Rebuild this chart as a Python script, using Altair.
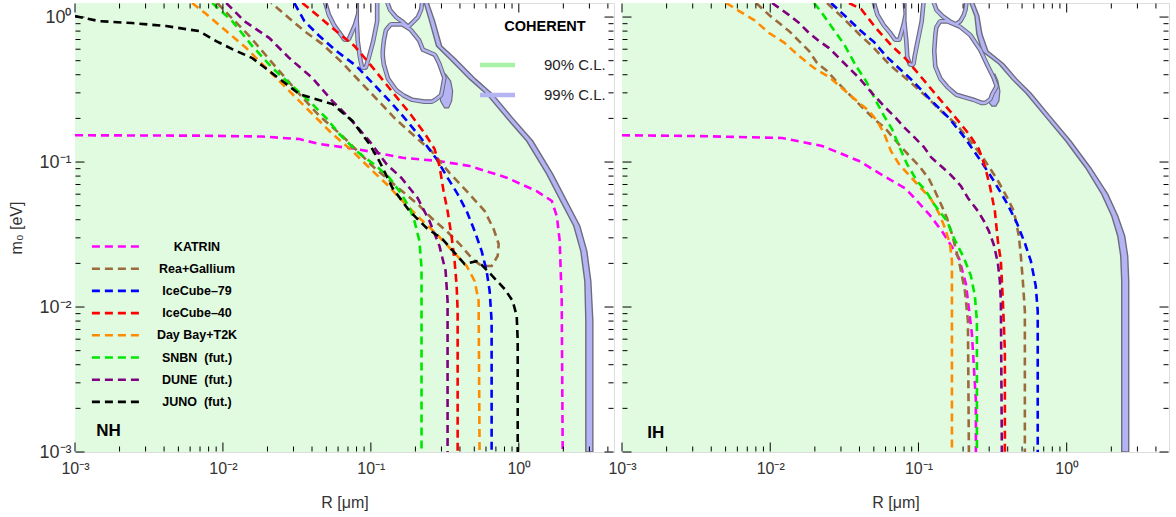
import altair as alt
import pandas as pd

# ---------------- NH panel data ----------------
katrin_nh_x = [0.001, 0.0069, 0.0185, 0.0329, 0.0449, 0.0799, 0.164, 0.278, 0.465, 0.828, 1.32, 1.67, 1.81, 1.89, 1.95, 1.98]
katrin_nh_y = [0.153, 0.152, 0.150, 0.144, 0.133, 0.123, 0.107, 0.102, 0.094, 0.078, 0.063, 0.054, 0.042, 0.0285, 0.011, 0.001]

rea_nh_x = [0.00915, 0.0151, 0.024, 0.0329, 0.0449, 0.0643, 0.1025, 0.156, 0.207, 0.257, 0.325, 0.398, 0.487, 0.561,
            0.655, 0.72, 0.731, 0.676, 0.588, 0.444, 0.341, 0.257, 0.197, 0.1445, 0.118, 0.0837, 0.0643, 0.047,
            0.0355, 0.026, 0.0212]
rea_nh_y = [1.25, 0.739, 0.425, 0.294, 0.208, 0.151, 0.0938, 0.0652, 0.0513, 0.0411, 0.0334, 0.0272, 0.0214, 0.0192,
            0.0192, 0.0225, 0.0272, 0.0345, 0.0459, 0.0631, 0.0839, 0.119, 0.151, 0.201, 0.251, 0.362, 0.482, 0.651,
            0.80, 1.049, 1.25]

ic79_nh_x = [0.0304, 0.0355, 0.0449, 0.0585, 0.0799, 0.1025, 0.134, 0.169, 0.213, 0.278, 0.325, 0.386, 0.444, 0.503,
             0.561, 0.606, 0.635, 0.655, 0.655]
ic79_nh_y = [1.25, 0.938, 0.739, 0.583, 0.459, 0.351, 0.263, 0.201, 0.151, 0.105, 0.080, 0.0601, 0.0459, 0.0334,
             0.0243, 0.0177, 0.0129, 0.0080, 0.001]

ic40_nh_x = [0.0344, 0.0402, 0.055, 0.0775, 0.101, 0.138, 0.1825, 0.2307, 0.2696, 0.291, 0.310, 0.330, 0.351, 0.368,
             0.380, 0.386, 0.386]
ic40_nh_y = [1.25, 1.10, 0.839, 0.631, 0.459, 0.309, 0.218, 0.158, 0.123, 0.0938, 0.0631, 0.0459, 0.0309, 0.0208,
             0.014, 0.00938, 0.001]

dbt_nh_x = [0.00619, 0.00771, 0.01053, 0.01438, 0.01845, 0.0252, 0.0329, 0.0449, 0.055, 0.0751, 0.0978, 0.1275, 0.164,
            0.213, 0.278, 0.357, 0.444, 0.503, 0.535, 0.543]
dbt_nh_y = [1.25, 1.049, 0.80, 0.611, 0.474, 0.345, 0.263, 0.192, 0.156, 0.119, 0.091, 0.0705, 0.0538, 0.0411, 0.0319,
            0.0243, 0.0192, 0.0151, 0.011, 0.001]

snbn_nh_x = [0.00847, 0.01156, 0.0158, 0.0216, 0.0294, 0.0384, 0.050, 0.0613, 0.0799, 0.109, 0.134, 0.161, 0.1825,
             0.197, 0.213, 0.220, 0.220]
snbn_nh_y = [1.25, 0.938, 0.631, 0.445, 0.334, 0.263, 0.201, 0.156, 0.119, 0.0938, 0.0776, 0.0601, 0.0482, 0.0392,
             0.0285, 0.0186, 0.001]

dune_nh_x = [0.01053, 0.01394, 0.0206, 0.0281, 0.0402, 0.055, 0.0717, 0.0978, 0.1275, 0.161, 0.207, 0.249, 0.291,
             0.320, 0.330, 0.330]
dune_nh_y = [1.25, 0.938, 0.716, 0.521, 0.380, 0.263, 0.201, 0.1396, 0.0969, 0.0776, 0.0565, 0.0392, 0.0263, 0.0177,
             0.011, 0.001]

juno_nh_x = [0.001, 0.00145, 0.00243, 0.00413, 0.0069, 0.009, 0.01156, 0.0158, 0.0252, 0.0329, 0.055, 0.0751, 0.0978,
             0.114, 0.140, 0.1825, 0.238, 0.305, 0.430, 0.527, 0.635, 0.8025, 0.909, 0.968, 0.983, 0.983]
juno_nh_y = [1.016, 0.938, 0.909, 0.867, 0.80, 0.683, 0.601, 0.521, 0.362, 0.294, 0.251, 0.192, 0.133, 0.1016, 0.0662,
             0.0459, 0.0351, 0.0294, 0.0198, 0.0208, 0.01715, 0.0133, 0.011, 0.00867, 0.00583, 0.001]

# COHERENT allowed region (90% edge and 99% edge), NH
coh_nh_y = [1.30, 0.938, 0.631, 0.513, 0.373, 0.294, 0.201, 0.1396, 0.0826, 0.0538, 0.0362, 0.0243, 0.0151, 0.008, 0.001]
coh_nh_in = [0.2270, 0.2494, 0.278, 0.341, 0.465, 0.606, 0.828, 1.131, 1.545, 1.921, 2.353, 2.625, 2.794, 2.838, 2.838]
coh_nh_out = [0.2416, 0.2696, 0.3007, 0.374, 0.5107, 0.6658, 0.9094, 1.242, 1.696, 2.11, 2.584, 2.883, 3.068, 3.166, 3.166]

# excluded islands inside the COHERENT region, NH
isl_nh = {
    "A": ([1.3, 1.049, 0.895, 0.80, 0.716], [0.05005, 0.05327, 0.05759, 0.06226, 0.0673],
          [0.0811, 0.0799, 0.07624, 0.07278, 0.06945]),
    "B": ([1.3, 0.938, 0.683, 0.538, 0.459], [0.08242, 0.08242, 0.08372, 0.08638, 0.08913],
          [0.1074, 0.1074, 0.1009, 0.09484, 0.09052]),
    "C": ([0.867, 0.80, 0.683, 0.583, 0.538, 0.474, 0.380, 0.319, 0.294, 0.276, 0.268],
          [0.1379, 0.1295, 0.1256, 0.1236, 0.1236, 0.1256, 0.1337, 0.1514, 0.1689, 0.1913, 0.2307],
          [0.1612, 0.1825, 0.2068, 0.2201, 0.2654, 0.2825, 0.3054, 0.296, 0.2914, 0.2696, 0.2573]),
    "D": ([1.3, 1.136, 1.016, 0.938, 0.895], [0.1316, 0.1379, 0.1514, 0.1689, 0.1769],
          [0.2167, 0.2133, 0.2036, 0.1883, 0.1797]),
}
blob_nh = {"E": ([0.4045, 0.362, 0.309, 0.263, 0.236], [0.296, 0.2914, 0.2914, 0.296, 0.315],
                 [0.320, 0.3459, 0.3569, 0.3514, 0.3353])}

# ---------------- IH panel data ----------------
katrin_ih_x = [0.001, 0.00332, 0.0120, 0.02237, 0.03052, 0.03974, 0.05419, 0.0824, 0.1177, 0.144, 0.1875, 0.209, 0.2294, 0.244, 0.244]
katrin_ih_y = [0.153, 0.151, 0.1465, 0.129, 0.1135, 0.1016, 0.0839, 0.0652, 0.0438, 0.0334, 0.0218, 0.0144, 0.00652, 0.00225, 0.001]

rea_ih1_x = [0.00804, 0.00983, 0.01148, 0.01341, 0.01566, 0.01829, 0.0207, 0.02418, 0.0278, 0.03402, 0.041, 0.05015,
             0.05947, 0.07745, 0.1024, 0.1177, 0.1292, 0.1418, 0.1556, 0.1682, 0.1875, 0.2058, 0.2156, 0.2189]
rea_ih1_y = [1.25, 1.032, 0.909, 0.80, 0.683, 0.583, 0.482, 0.425, 0.362, 0.294, 0.243, 0.198, 0.1716, 0.125, 0.0924,
             0.0764, 0.0631, 0.0513, 0.0411, 0.0319, 0.0208, 0.0129, 0.008, 0.001]
rea_ih2_x = [0.02418, 0.03148, 0.041, 0.04862, 0.06427, 0.0863, 0.1141, 0.1418, 0.179, 0.2294, 0.2763, 0.3381, 0.3949,
             0.4401, 0.4756, 0.4906, 0.5061, 0.5221, 0.5221]
rea_ih2_y = [1.25, 0.969, 0.739, 0.631, 0.466, 0.362, 0.2805, 0.225, 0.183, 0.135, 0.105, 0.0764, 0.0574, 0.0459,
             0.0309, 0.0225, 0.0151, 0.00938, 0.001]

ic79_ih_x = [0.02573, 0.03148, 0.041, 0.05015, 0.06135, 0.07745, 0.09183, 0.1177, 0.1606, 0.2058, 0.2637, 0.3227,
             0.3949, 0.4612, 0.5221, 0.5728, 0.6182, 0.6377, 0.6377]
ic79_ih_y = [1.25, 1.032, 0.80, 0.6725, 0.5296, 0.425, 0.362, 0.276, 0.201, 0.1465, 0.1016, 0.074, 0.0521, 0.038,
             0.0276, 0.0208, 0.014, 0.00938, 0.001]

ic40_ih_x = [0.03402, 0.041, 0.05171, 0.06629, 0.0824, 0.1056, 0.1374, 0.179, 0.2189, 0.2557, 0.2806, 0.3033, 0.3277,
             0.3433, 0.3597, 0.3711, 0.3828, 0.3828]
ic40_ih_y = [1.25, 1.136, 0.839, 0.631, 0.513, 0.380, 0.276, 0.201, 0.156, 0.123, 0.0938, 0.0683, 0.0459, 0.0285,
             0.0208, 0.011, 0.00497, 0.001]

dbt_ih_x = [0.00504, 0.00617, 0.00779, 0.00983, 0.01241, 0.01566, 0.01976, 0.02494, 0.03148, 0.03853, 0.04641, 0.05253,
            0.05855, 0.06527, 0.07391, 0.0863, 0.1039, 0.1215, 0.1374, 0.1509, 0.1631, 0.1682, 0.1682]
dbt_ih_y = [1.25, 1.10, 0.953, 0.776, 0.667, 0.538, 0.445, 0.386, 0.314, 0.263, 0.225, 0.192, 0.158, 0.119, 0.0969,
            0.0813, 0.0662, 0.0556, 0.0445, 0.0351, 0.0272, 0.0208, 0.001]

snbn_ih_x = [0.01976, 0.02237, 0.02573, 0.03148, 0.03793, 0.04431, 0.05171, 0.05855, 0.06629, 0.07391, 0.08368,
             0.09772, 0.1124, 0.1272, 0.1556, 0.1735, 0.2026, 0.2259, 0.2403, 0.2479, 0.2479]
snbn_ih_y = [1.25, 1.066, 0.867, 0.651, 0.459, 0.362, 0.263, 0.208, 0.169, 0.129, 0.0969, 0.074, 0.0631, 0.0513,
             0.0392, 0.0299, 0.0218, 0.0164, 0.0119, 0.008, 0.001]

dune_ih_x = [0.0103, 0.01341, 0.01566, 0.01829, 0.02136, 0.02494, 0.02913, 0.03402, 0.03974, 0.04862, 0.05947, 0.07054,
             0.07988, 0.09326, 0.1089, 0.1215, 0.1418, 0.1656, 0.1934, 0.2156, 0.2517, 0.2763, 0.2986, 0.3227, 0.3433,
             0.3542, 0.3597, 0.3654]
dune_ih_y = [1.25, 1.032, 0.909, 0.776, 0.683, 0.611, 0.521, 0.445, 0.380, 0.299, 0.239, 0.201, 0.174, 0.149, 0.127,
             0.108, 0.0938, 0.0813, 0.0683, 0.0565, 0.0459, 0.0392, 0.0334, 0.0268, 0.0201, 0.0151, 0.011, 0.001]

coh_ih_y = [1.30, 1.016, 0.764, 0.583, 0.474, 0.373, 0.299, 0.204, 0.1396, 0.091, 0.0601, 0.0424, 0.0309, 0.0225, 0.0151, 0.001]
coh_ih_in = [0.2189, 0.2403, 0.2479, 0.2679, 0.3487, 0.4267, 0.5302, 0.7231, 0.986, 1.345, 1.724, 2.013, 2.210, 2.315, 2.351, 2.351]
coh_ih_out = [0.2330, 0.2557, 0.2679, 0.2939, 0.3768, 0.4612, 0.5728, 0.7812, 1.0656, 1.453, 1.892, 2.210, 2.463, 2.580, 2.621, 2.621]

isl_ih = {
    "A": ([1.3, 1.049, 0.895, 0.80, 0.716], [0.05093, 0.05419, 0.05947, 0.06527, 0.07054],
          [0.07865, 0.07988, 0.07745, 0.07507, 0.07278]),
    "B": ([1.3, 0.938, 0.683, 0.538, 0.482], [0.0824, 0.0824, 0.08501, 0.0863, 0.08903],
          [0.1056, 0.1024, 0.09621, 0.09183, 0.09042]),
    "C": ([0.909, 0.839, 0.739, 0.583, 0.459, 0.380, 0.334, 0.299, 0.276, 0.263],
          [0.1418, 0.1353, 0.1333, 0.1312, 0.1333, 0.144, 0.1606, 0.1817, 0.2366, 0.2679],
          [0.1556, 0.1875, 0.2189, 0.2557, 0.2851, 0.3128, 0.3277, 0.3079, 0.2986, 0.2806]),
    "D": ([1.3, 1.136, 1.032, 0.953, 0.924], [0.1292, 0.1353, 0.1486, 0.1656, 0.1762],
          [0.2058, 0.2026, 0.1964, 0.1875, 0.179]),
}
blob_ih = {"E": ([0.4045, 0.362, 0.309, 0.263, 0.243], [0.3033, 0.2895, 0.2851, 0.2939, 0.3128],
                 [0.3277, 0.3433, 0.3542, 0.3487, 0.3329])}

# ---------------- labels / styles ----------------
EXPS = ["KATRIN", "Rea+Gallium", "IceCube\u201379", "IceCube\u201340", "Day Bay+T2K",
        "SNBN\u00a0\u00a0(fut.)", "DUNE\u00a0\u00a0(fut.)", "JUNO\u00a0\u00a0(fut.)"]
EXP_COLORS = ["#ff00ff", "#9c6b3c", "#0000ff", "#ff0000", "#ff8c00", "#00e600", "#800080", "#000000"]
CL_NAMES = ["90% C.L.", "99% C.L."]
CL_COLORS = ["#a8f2a8", "#b4b4f2"]

MAJOR = [0.001, 0.01, 0.1, 1]
X_TICKS = [round(m * 10.0 ** k, 6) for k in range(-3, 1) for m in range(1, 10)]
Y_TICKS = [round(m * 10.0 ** k, 6) for k in range(-3, 0) for m in range(1, 10)] + [1.0]
LBL = ("datum.value >= 1 ? '10\u2070' : datum.value >= 0.1 ? '10\u207b\u00b9' : "
       "datum.value >= 0.01 ? '10\u207b\u00b2' : '10\u207b\u00b3'")

GREEN = "#e1fbe1"
BLUE = "#b4b4f4"
GREY = "#6c6c7e"
FONT = "Liberation Sans"
H = 449
MAJ_LEN = 9
MIN_LEN = 5


def lines_df(series):
    rows = []
    for name, seg, xs, ys in series:
        for i, (x, y) in enumerate(zip(xs, ys)):
            rows.append({"exp": name, "seg": f"{name}-{seg}", "x": x, "y": y, "i": i})
    return pd.DataFrame(rows)


def shapes_df(d):
    rows = []
    for k, (ys, xl, xr) in d.items():
        for y, a, b in zip(ys, xl, xr):
            rows.append({"id": k, "y": y, "xl": a, "xr": b})
    return pd.DataFrame(rows)


def tick_layers(xs, ys, W, xmax):
    """Inward frame ticks, drawn as stroked path symbols placed by the scales."""
    out = []
    xv = [v for v in X_TICKS if v <= xmax]
    for major in (True, False):
        L = MAJ_LEN if major else MIN_LEN
        dx = pd.DataFrame({"v": [v for v in xv if (v in MAJOR) == major]})
        dy = pd.DataFrame({"v": [v for v in Y_TICKS if (v in MAJOR) == major]})
        for pos, shape in ((H - 0.5, "M0,0V-2"), (0.5, "M0,0V2")):
            out.append(alt.Chart(dx).mark_point(shape=shape, size=L * L, filled=False, color="black",
                                                strokeWidth=1, opacity=1).encode(
                x=alt.X("v:Q", scale=xs, axis=None), y=alt.value(pos)))
        for pos, shape in ((0.5, "M0,0H2"), (W - 0.5, "M0,0H-2")):
            out.append(alt.Chart(dy).mark_point(shape=shape, size=L * L, filled=False, color="black",
                                                strokeWidth=1, opacity=1).encode(
                y=alt.Y("v:Q", scale=ys, axis=None), x=alt.value(pos)))
    return out


def panel(W, xmax, series, cy, cin, cout, isl, blob, tag, tag_xy, nh):
    xs = alt.Scale(type="log", domain=[0.001, xmax], nice=False)
    ys = alt.Scale(type="log", domain=[0.001, 1.25], nice=False)

    x_lab = alt.Axis(orient="bottom", values=MAJOR, labelExpr=LBL, ticks=False, domain=False, grid=False,
                     labelFlush=False, labelOverlap=False, labelFont=FONT, labelFontSize=16, labelColor="#333",
                     labelPadding=8, title="R [\u03bcm]", titleFont=FONT, titleFontSize=16,
                     titleFontWeight="normal", titleColor="#333", titlePadding=18)
    if nh:
        y_lab = alt.Axis(orient="left", values=MAJOR, labelExpr=LBL, ticks=False, domain=False, grid=False,
                         labelFlush=False, labelOverlap=False, labelFont=FONT, labelFontSize=18,
                         labelColor="#333", labelPadding=4, title="m\u2080 [eV]", titleFont=FONT,
                         titleFontSize=16, titleFontWeight="normal", titleColor="#333", titlePadding=14)
    else:
        y_lab = None

    region = pd.DataFrame({"y": cy, "xin": cin, "xout": cout, "x0": [0.001] * len(cy)})
    green = alt.Chart(region).mark_area(orient="horizontal", fill=GREEN, clip=True).encode(
        y=alt.Y("y:Q", scale=ys, axis=y_lab), x=alt.X("xin:Q", scale=xs, axis=x_lab), x2="x0:Q")
    band = alt.Chart(region).mark_area(orient="horizontal", fill=BLUE, stroke=GREY, strokeWidth=1.4,
                                       clip=True).encode(
        y=alt.Y("y:Q", scale=ys, axis=None), x=alt.X("xout:Q", scale=xs, axis=None), x2="xin:Q")

    bdf = shapes_df(blob)
    blobs = alt.Chart(bdf).mark_area(orient="horizontal", fill=BLUE, stroke=GREY, strokeWidth=1.2,
                                     clip=True).encode(
        y=alt.Y("y:Q", scale=ys, axis=None), x=alt.X("xr:Q", scale=xs, axis=None), x2="xl:Q",
        detail="id:N")

    idf = shapes_df(isl)
    def isl_layer(**kw):
        return alt.Chart(idf).mark_area(orient="horizontal", clip=True, strokeJoin="round", **kw).encode(
            y=alt.Y("y:Q", scale=ys, axis=None), x=alt.X("xr:Q", scale=xs, axis=None), x2="xl:Q",
            detail="id:N")
    rim1 = isl_layer(fillOpacity=0, stroke=GREY, strokeWidth=8)
    rim2 = isl_layer(fillOpacity=0, stroke=BLUE, strokeWidth=6)
    hole = isl_layer(fill="white", stroke=GREY, strokeWidth=1.2)

    ldf = lines_df(series)
    if nh:
        leg = alt.Legend(title=None, orient="none", legendX=33, legendY=234, symbolType="M-3.2,0H3.2",
                         symbolSize=256, symbolStrokeWidth=2.6, symbolDash=[8, 5], labelFont=FONT,
                         labelFontSize=12.5, labelFontWeight="bold", labelColor="black", labelAlign="center",
                         labelOffset=70, rowPadding=6.2, labelLimit=250)
    else:
        leg = None
    lines = alt.Chart(ldf).mark_line(strokeDash=[8, 5], strokeWidth=2.6, clip=True).encode(
        x=alt.X("x:Q", scale=xs, axis=None), y=alt.Y("y:Q", scale=ys, axis=None),
        color=alt.Color("exp:N", scale=alt.Scale(domain=EXPS, range=EXP_COLORS), legend=leg),
        order="i:Q", detail="seg:N")

    tdf = pd.DataFrame({"x": [tag_xy[0]], "y": [tag_xy[1]], "t": [tag]})
    text = alt.Chart(tdf).mark_text(align="left", baseline="middle", fontSize=17, fontWeight="bold",
                                    font=FONT, color="black").encode(
        x=alt.X("x:Q", scale=xs, axis=None), y=alt.Y("y:Q", scale=ys, axis=None), text="t:N")

    layers = [green, band, blobs, rim1, rim2, hole, lines, text] + tick_layers(xs, ys, W, xmax)
    if nh:
        cdf = pd.DataFrame({"cl": CL_NAMES, "x": [0.001, 0.001], "y": [0.001, 0.001]})
        cleg = alt.Legend(title="COHERENT", orient="none", legendX=409, legendY=17,
                          symbolType="M-2.19,0H2.19", symbolSize=256, symbolStrokeWidth=4.5, symbolOffset=3,
                          titleFont=FONT, titleFontSize=14.5, titleFontWeight="bold", titleColor="black",
                          titleAnchor="middle", titlePadding=20, labelFont=FONT, labelFontSize=15,
                          labelColor="#222", labelOffset=36, rowPadding=10, labelLimit=200)
        dummy = alt.Chart(cdf).mark_line(clip=True).encode(
            x=alt.X("x:Q", scale=xs, axis=None), y=alt.Y("y:Q", scale=ys, axis=None),
            stroke=alt.Stroke("cl:N", scale=alt.Scale(domain=CL_NAMES, range=CL_COLORS), legend=cleg))
        layers.append(dummy)

    return alt.layer(*layers).resolve_axis(x="independent", y="independent").properties(width=W, height=H)


nh_series = [
    ("KATRIN", 0, katrin_nh_x, katrin_nh_y),
    ("Rea+Gallium", 0, rea_nh_x, rea_nh_y),
    ("IceCube\u201379", 0, ic79_nh_x, ic79_nh_y),
    ("IceCube\u201340", 0, ic40_nh_x, ic40_nh_y),
    ("Day Bay+T2K", 0, dbt_nh_x, dbt_nh_y),
    ("SNBN\u00a0\u00a0(fut.)", 0, snbn_nh_x, snbn_nh_y),
    ("DUNE\u00a0\u00a0(fut.)", 0, dune_nh_x, dune_nh_y),
    ("JUNO\u00a0\u00a0(fut.)", 0, juno_nh_x, juno_nh_y),
]
ih_series = [
    ("KATRIN", 0, katrin_ih_x, katrin_ih_y),
    ("Rea+Gallium", 0, rea_ih1_x, rea_ih1_y),
    ("Rea+Gallium", 1, rea_ih2_x, rea_ih2_y),
    ("IceCube\u201379", 0, ic79_ih_x, ic79_ih_y),
    ("IceCube\u201340", 0, ic40_ih_x, ic40_ih_y),
    ("Day Bay+T2K", 0, dbt_ih_x, dbt_ih_y),
    ("SNBN\u00a0\u00a0(fut.)", 0, snbn_ih_x, snbn_ih_y),
    ("DUNE\u00a0\u00a0(fut.)", 0, dune_ih_x, dune_ih_y),
]

left = panel(539, 4.4, nh_series, coh_nh_y, coh_nh_in, coh_nh_out, isl_nh, blob_nh, "NH", (0.00139, 0.0014), True)
right = panel(547, 4.9, ih_series, coh_ih_y, coh_ih_in, coh_ih_out, isl_ih, blob_ih, "IH", (0.00148, 0.00135), False)

chart = alt.hconcat(left, right, spacing=8, bounds="flush").resolve_scale(
    x="independent", y="independent", color="independent", stroke="independent"
).properties(
    padding={"left": 8, "top": 1, "right": 0, "bottom": 2}
).configure_view(stroke="#9a9a9a", strokeWidth=1.5).configure(font=FONT)

chart.save("out.html", embed_options={"renderer": "svg", "actions": False})
